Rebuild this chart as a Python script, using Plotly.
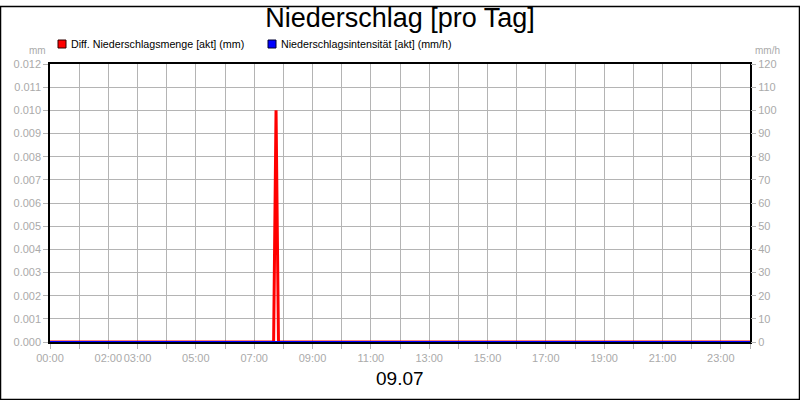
import plotly.graph_objects as go

day = "2024-07-09"
next_day = "2024-07-10"

# Diff. Niederschlagsmenge [akt] (mm)
menge_times = [day + " 00:00", day + " 07:40", day + " 07:45", day + " 07:50", next_day + " 00:00"]
menge_values = [0.0, 0.0, 0.010, 0.0, 0.0]

# Niederschlagsintensität [akt] (mm/h)
intens_times = [day + " 00:00", next_day + " 00:00"]
intens_values = [0.0, 0.0]

hour_ticks = [day + " %02d:00" % h for h in range(24)] + [next_day + " 00:00"]
labeled_hours = ["00:00", "02:00", "03:00", "05:00", "07:00", "09:00", "11:00",
                 "13:00", "15:00", "17:00", "19:00", "21:00", "23:00"]
hour_text = [t[-5:] if t[-5:] in labeled_hours and t.startswith(day) else "" for t in hour_ticks]

left_ticks = [i / 1000 for i in range(13)]
right_ticks = list(range(0, 130, 10))

legend_names = ["Diff. Niederschlagsmenge [akt] (mm)", "Niederschlagsintensität [akt] (mm/h)"]
legend_colors = ["#ff0000", "#0000ff"]

grey = "#b4b4b4"
tick_font = dict(family="Liberation Sans, Arial", size=11, color="#aaaaaa")
W, H = 700, 278  # plot area in px

fig = go.Figure()
fig.add_trace(go.Scatter(x=intens_times, y=intens_values, mode="lines", yaxis="y2",
                         name=legend_names[1], line=dict(color=legend_colors[1], width=2)))
fig.add_trace(go.Scatter(x=menge_times, y=menge_values, mode="lines",
                         name=legend_names[0], line=dict(color=legend_colors[0], width=3)))

annotations = [
    dict(text="mm", xref="paper", yref="paper", x=-2 / W, y=1 + 14 / H,
         xanchor="right", yanchor="middle", showarrow=False, font=dict(size=10, color="#aaaaaa")),
    dict(text="mm/h", xref="paper", yref="paper", x=1 + 3 / W, y=1 + 14 / H,
         xanchor="left", yanchor="middle", showarrow=False, font=dict(size=10, color="#aaaaaa")),
    dict(text="09.07", xref="paper", yref="paper", x=0.5, y=-36 / H,
         xanchor="center", yanchor="middle", showarrow=False, font=dict(size=19, color="black")),
]
shapes = [
    dict(type="rect", xref="paper", yref="paper", x0=-49.5 / W, x1=749.5 / W,
         y0=-57.5 / H, y1=335.5 / H, line=dict(color="black", width=1.5)),
]
# legend: swatch + text
for i, (name, col) in enumerate(zip(legend_names, legend_colors)):
    x_px = 8 + i * 210
    shapes.append(dict(type="rect", xref="paper", yref="paper",
                       x0=x_px / W, x1=(x_px + 8) / W, y0=1 + 16 / H, y1=1 + 24 / H,
                       fillcolor=col, line=dict(color="#300000" if i == 0 else "#000030", width=1)))
    annotations.append(dict(text=name, xref="paper", yref="paper", x=(x_px + 11) / W, y=1 + 20 / H,
                            xanchor="left", yanchor="middle", showarrow=False,
                            font=dict(size=10.7, color="black")))

fig.update_layout(
    width=800,
    height=400,
    margin=dict(l=50, r=50, t=64, b=58),
    plot_bgcolor="white",
    paper_bgcolor="white",
    font=dict(family="Liberation Sans, Arial", size=11, color="black"),
    title=dict(text="Niederschlag [pro Tag]", x=0.5, xanchor="center", y=0.955, yanchor="middle",
               font=dict(size=27, color="black")),
    showlegend=False,
    hovermode=False,
    xaxis=dict(type="date", range=[day + " 00:00", next_day + " 00:00"],
               tickmode="array", tickvals=hour_ticks, ticktext=hour_text, tickangle=0,
               showgrid=True, gridcolor=grey, gridwidth=1,
               ticks="outside", ticklen=5, tickcolor=grey, tickfont=tick_font,
               showline=True, linecolor="black", linewidth=1.5, mirror=True, zeroline=False),
    yaxis=dict(range=[0, 0.012], tickmode="array", tickvals=left_ticks,
               ticktext=["%.3f" % v for v in left_ticks],
               showgrid=True, gridcolor=grey, gridwidth=1,
               ticks="outside", ticklen=5, tickcolor=grey, tickfont=tick_font,
               showline=True, linecolor="black", linewidth=1.5, mirror=True, zeroline=False),
    yaxis2=dict(range=[0, 120], overlaying="y", side="right", tickmode="array",
                tickvals=right_ticks, showgrid=False,
                ticks="outside", ticklen=5, tickcolor=grey, tickfont=tick_font,
                showline=False, zeroline=False),
    annotations=annotations,
    shapes=shapes,
)

fig.write_html("out.html", config={"displayModeBar": False},
               post_script="document.body.style.margin='0';")
